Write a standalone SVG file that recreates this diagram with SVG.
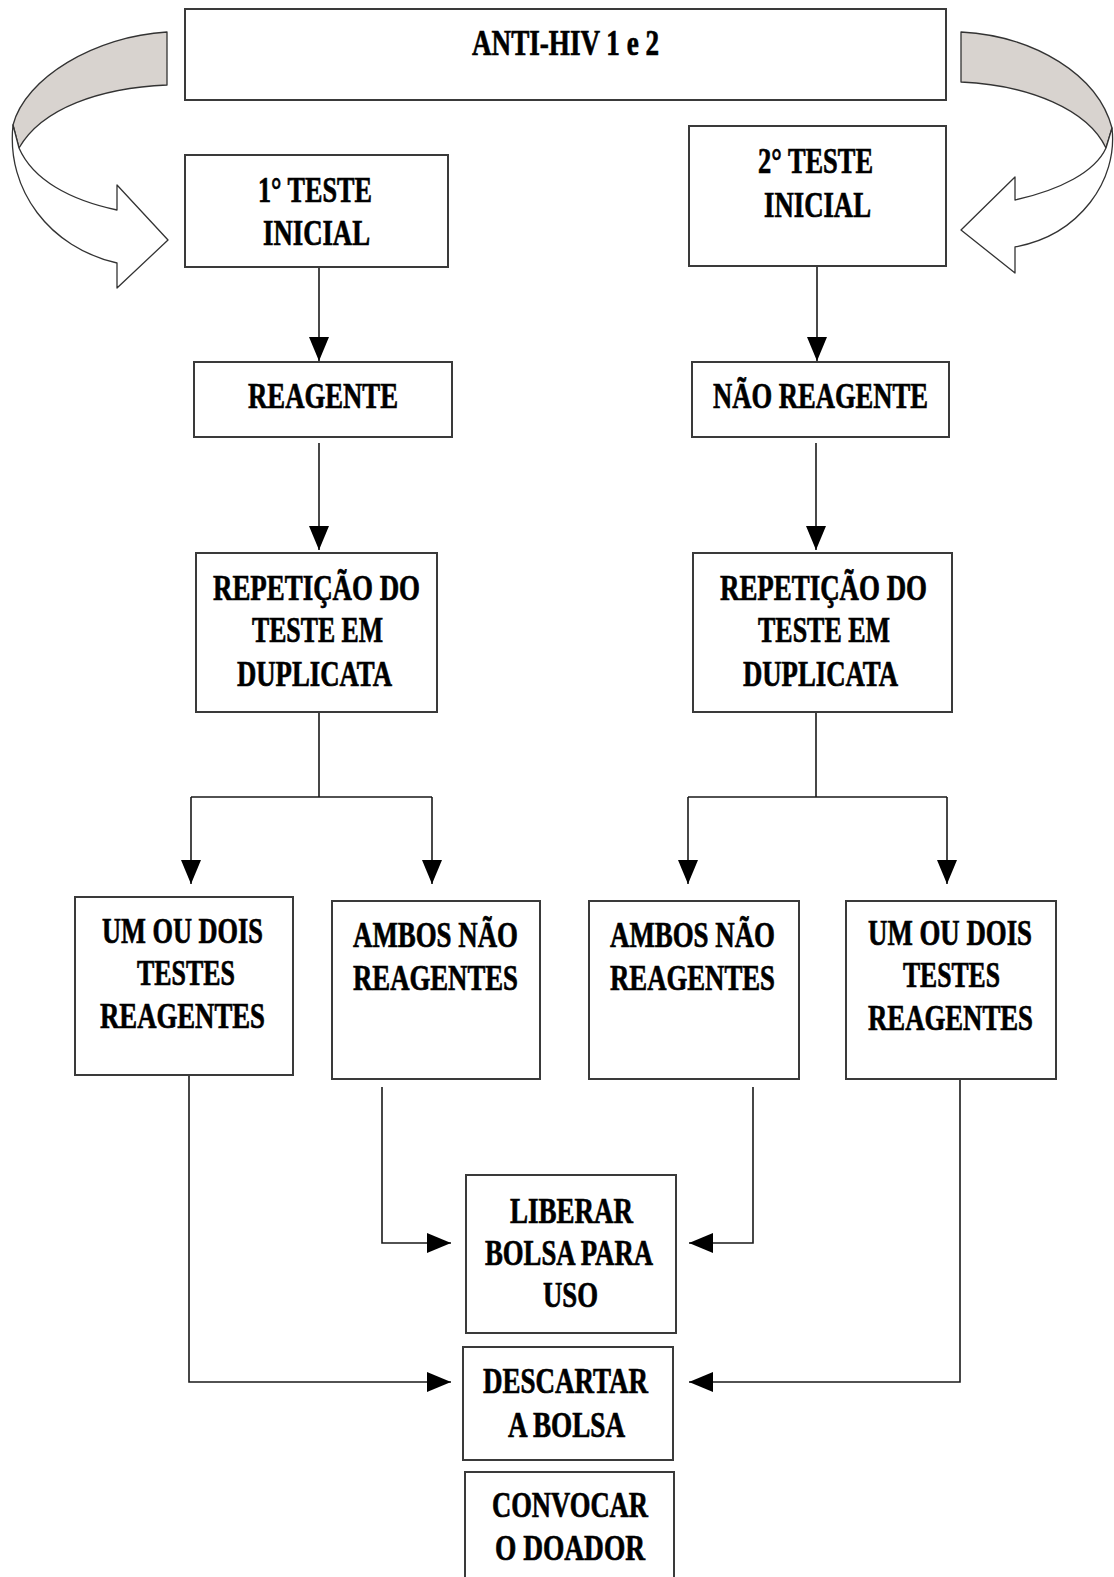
<svg xmlns="http://www.w3.org/2000/svg" width="1114" height="1577" viewBox="0 0 1114 1577">
<style>
.box{fill:#fff;stroke:#3a3a3a;stroke-width:2}
.t{font-family:"Liberation Serif","Times New Roman",serif;font-weight:bold;font-size:36px;text-anchor:middle;fill:#000;stroke:#000;stroke-width:0.7}
.c{fill:none;stroke:#1a1a1a;stroke-width:1.6}
.ca{fill:none;stroke:#1a1a1a;stroke-width:1.6;marker-end:url(#ah)}
.rib{stroke:#333;stroke-width:1.3;stroke-linejoin:round}
</style>
<defs>
<marker id="ah" markerWidth="24" markerHeight="20" refX="24" refY="10" orient="auto" markerUnits="userSpaceOnUse">
<path d="M0,0 L24,10 L0,20 Z" fill="#000"/>
</marker>
</defs>
<rect width="1114" height="1577" fill="#fff"/>

<g id="curved-left">
<path class="rib" fill="#d8d3cf" d="M167,32 C95,36 25,78 13,125 L19,148 C42,108 100,88 167,85 Z"/>
<path class="rib" fill="#fff" d="M13,125 C6,190 50,248 117,263 L117,288 L168,240 L117,185 L117,210 C70,200 33,180 19,148 Z"/>
</g>
<g id="curved-right">
<path class="rib" fill="#d8d3cf" d="M961,32 C1035,36 1098,75 1112,128 L1106,148 C1088,110 1030,85 961,82 Z"/>
<path class="rib" fill="#fff" d="M1112,128 C1118,180 1080,235 1015,247 L1015,273 L961,230 L1015,177 L1015,200 C1060,190 1095,172 1106,148 Z"/>
</g>

<g id="connectors">
<path class="ca" d="M319,267 V361"/>
<path class="ca" d="M817,266 V361"/>
<path class="ca" d="M319,443 V550"/>
<path class="ca" d="M816,443 V550"/>
<path class="c" d="M319,711 V797 M191,797 H432 M688,797 H947 M816,711 V797"/>
<path class="ca" d="M191,797 V884"/>
<path class="ca" d="M432,797 V884"/>
<path class="ca" d="M688,797 V884"/>
<path class="ca" d="M947,797 V884"/>
<path class="ca" d="M189,1075 V1382 H451"/>
<path class="ca" d="M382,1087 V1243 H451"/>
<path class="ca" d="M753,1087 V1243 H689"/>
<path class="ca" d="M960,1079 V1382 H689"/>
</g>

<g id="n-anti-hiv">
<rect class="box" x="185" y="9" width="761" height="91"/>
<text class="t" x="565.5" y="55" textLength="187" lengthAdjust="spacingAndGlyphs">ANTI-HIV 1 e 2</text>
</g>
<g id="n-teste1">
<rect class="box" x="185" y="155" width="263" height="112"/>
<text class="t" x="315" y="202" textLength="114" lengthAdjust="spacingAndGlyphs">1° TESTE</text>
<text class="t" x="316.5" y="245" textLength="107" lengthAdjust="spacingAndGlyphs">INICIAL</text>
</g>
<g id="n-teste2">
<rect class="box" x="689" y="126" width="257" height="140"/>
<text class="t" x="815.5" y="173" textLength="115" lengthAdjust="spacingAndGlyphs">2° TESTE</text>
<text class="t" x="817.5" y="217" textLength="107" lengthAdjust="spacingAndGlyphs">INICIAL</text>
</g>
<g id="n-reagente">
<rect class="box" x="194" y="362" width="258" height="75"/>
<text class="t" x="323" y="408" textLength="150" lengthAdjust="spacingAndGlyphs">REAGENTE</text>
</g>
<g id="n-nao-reagente">
<rect class="box" x="692" y="362" width="257" height="75"/>
<text class="t" x="820.5" y="408" textLength="215" lengthAdjust="spacingAndGlyphs">NÃO REAGENTE</text>
</g>
<g id="n-rep-left">
<rect class="box" x="196" y="553" width="241" height="159"/>
<text class="t" x="316.5" y="600" textLength="207" lengthAdjust="spacingAndGlyphs">REPETIÇÃO DO</text>
<text class="t" x="317.5" y="642" textLength="131" lengthAdjust="spacingAndGlyphs">TESTE EM</text>
<text class="t" x="314.5" y="686" textLength="155" lengthAdjust="spacingAndGlyphs">DUPLICATA</text>
</g>
<g id="n-rep-right">
<rect class="box" x="693" y="553" width="259" height="159"/>
<text class="t" x="823.5" y="600" textLength="207" lengthAdjust="spacingAndGlyphs">REPETIÇÃO DO</text>
<text class="t" x="824" y="642" textLength="132" lengthAdjust="spacingAndGlyphs">TESTE EM</text>
<text class="t" x="820.5" y="686" textLength="155" lengthAdjust="spacingAndGlyphs">DUPLICATA</text>
</g>
<g id="n-um-left">
<rect class="box" x="75" y="897" width="218" height="178"/>
<text class="t" x="182.5" y="943" textLength="161" lengthAdjust="spacingAndGlyphs">UM OU DOIS</text>
<text class="t" x="186" y="985" textLength="98" lengthAdjust="spacingAndGlyphs">TESTES</text>
<text class="t" x="182.5" y="1028" textLength="165" lengthAdjust="spacingAndGlyphs">REAGENTES</text>
</g>
<g id="n-ambos-left">
<rect class="box" x="332" y="901" width="208" height="178"/>
<text class="t" x="435.5" y="947" textLength="165" lengthAdjust="spacingAndGlyphs">AMBOS NÃO</text>
<text class="t" x="435.5" y="990" textLength="165" lengthAdjust="spacingAndGlyphs">REAGENTES</text>
</g>
<g id="n-ambos-right">
<rect class="box" x="589" y="901" width="210" height="178"/>
<text class="t" x="692.5" y="947" textLength="165" lengthAdjust="spacingAndGlyphs">AMBOS NÃO</text>
<text class="t" x="692.5" y="990" textLength="165" lengthAdjust="spacingAndGlyphs">REAGENTES</text>
</g>
<g id="n-um-right">
<rect class="box" x="846" y="901" width="210" height="178"/>
<text class="t" x="950" y="945" textLength="164" lengthAdjust="spacingAndGlyphs">UM OU DOIS</text>
<text class="t" x="951.5" y="987" textLength="97" lengthAdjust="spacingAndGlyphs">TESTES</text>
<text class="t" x="950.5" y="1030" textLength="165" lengthAdjust="spacingAndGlyphs">REAGENTES</text>
</g>
<g id="n-liberar">
<rect class="box" x="466" y="1175" width="210" height="158"/>
<text class="t" x="571.5" y="1223" textLength="123" lengthAdjust="spacingAndGlyphs">LIBERAR</text>
<text class="t" x="569" y="1265" textLength="168" lengthAdjust="spacingAndGlyphs">BOLSA PARA</text>
<text class="t" x="570.5" y="1307" textLength="55" lengthAdjust="spacingAndGlyphs">USO</text>
</g>
<g id="n-descartar">
<rect class="box" x="463" y="1347" width="210" height="113"/>
<text class="t" x="565.5" y="1393" textLength="165" lengthAdjust="spacingAndGlyphs">DESCARTAR</text>
<text class="t" x="566.5" y="1437" textLength="117" lengthAdjust="spacingAndGlyphs">A BOLSA</text>
</g>
<g id="n-convocar">
<rect class="box" x="465" y="1472" width="209" height="130"/>
<text class="t" x="570" y="1517" textLength="156" lengthAdjust="spacingAndGlyphs">CONVOCAR</text>
<text class="t" x="570" y="1560" textLength="150" lengthAdjust="spacingAndGlyphs">O DOADOR</text>
</g>
</svg>
